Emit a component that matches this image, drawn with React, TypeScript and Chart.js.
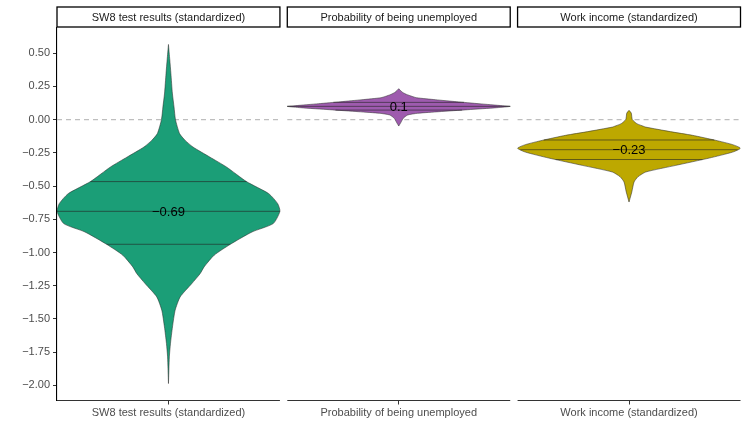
import React, { useEffect, useRef } from 'react';
import { Chart, registerables } from 'chart.js';

Chart.register(...registerables);

const FONT = "'Liberation Sans', Arial, Helvetica, sans-serif";

// Facet / category names
const panels = [
  'SW8 test results (standardized)',
  'Probability of being unemployed',
  'Work income (standardized)',
];
const fillColors = ['#1B9E77', '#9E5BAE', '#BDA800'];

// Violin outlines: y value and relative half-width (1 = widest point)
const sw8Y = [0.566, 0.45, 0.346, 0.2, 0.095, 0.0, -0.105, -0.156, -0.206, -0.281, -0.356, -0.466, -0.557, -0.632, -0.69, -0.782, -0.845, -0.938, -1.02, -1.108, -1.158, -1.233, -1.334, -1.434, -1.56, -1.685, -1.785, -1.986];
const sw8W = [0, 0.012, 0.022, 0.035, 0.05, 0.063, 0.1, 0.15, 0.22, 0.37, 0.52, 0.70, 0.90, 0.98, 1.0, 0.94, 0.75, 0.555, 0.41, 0.32, 0.285, 0.21, 0.105, 0.06, 0.036, 0.018, 0.008, 0];

const unempY = [0.233, 0.22, 0.205, 0.19, 0.175, 0.165, 0.15, 0.135, 0.12, 0.105, 0.1, 0.09, 0.075, 0.06, 0.048, 0.035, 0.01, -0.02, -0.048];
const unempW = [0, 0.015, 0.035, 0.07, 0.12, 0.16, 0.33, 0.52, 0.72, 0.93, 1.0, 0.88, 0.62, 0.36, 0.17, 0.08, 0.04, 0.02, 0];

const incomeY = [0.07, 0.05, 0.02, 0.0, -0.03, -0.05, -0.056, -0.09, -0.118, -0.156, -0.188, -0.215, -0.244, -0.289, -0.344, -0.394, -0.43, -0.469, -0.544, -0.62];
const incomeW = [0, 0.02, 0.025, 0.03, 0.07, 0.13, 0.15, 0.37, 0.57, 0.78, 0.93, 1.0, 0.93, 0.72, 0.42, 0.15, 0.08, 0.045, 0.025, 0];

// Quartiles (75%, 50%, 25%)
const sw8Q = [-0.466, -0.69, -0.938];
const unempQ = [0.13, 0.1, 0.072];
const incomeQ = [-0.153, -0.226, -0.30];

const medianLabels = ['\u22120.69', '0.1', '\u22120.23'];
const medians = [sw8Q[1], unempQ[1], incomeQ[1]];

const yTicks = [0.5, 0.25, 0, -0.25, -0.5, -0.75, -1, -1.25, -1.5, -1.75, -2];

const violinYs = [sw8Y, unempY, incomeY];
const violinWs = [sw8W, unempW, incomeW];
const violinQs = [sw8Q, unempQ, incomeQ];

const PANEL = 2;
const GAP = 0.066;
const center = (i: number) => i * (PANEL + GAP) + PANEL / 2;

const widthAt = (ys: number[], ws: number[], q: number) => {
  for (let k = 0; k < ys.length - 1; k++) {
    const a = ys[k], b = ys[k + 1];
    if ((q <= a && q >= b)) {
      const t = (a - q) / (a - b || 1);
      return ws[k] + t * (ws[k + 1] - ws[k]);
    }
  }
  return 0;
};

const fmt = (v: number) => {
  const s = Math.abs(v).toFixed(2);
  return v < -1e-9 ? '\u2212' + s : s;
};

const allY = [...sw8Y, ...unempY, ...incomeY];
const dMin = Math.min(...allY);
const dMax = Math.max(...allY);
const yMin = dMin - 0.05 * (dMax - dMin);
const yMax = dMax + 0.05 * (dMax - dMin);

export default function App() {
  const ref = useRef<HTMLCanvasElement | null>(null);

  useEffect(() => {
    document.body.style.margin = '0';
    const canvas = ref.current;
    if (!canvas) return;

    const datasets: any[] = [];
    violinYs.forEach((ys, i) => {
      const ws = violinWs[i];
      const c = center(i);
      const pts: { x: number; y: number }[] = [];
      ys.forEach((y, k) => pts.push({ x: c + ws[k] * (PANEL / 2), y }));
      for (let k = ys.length - 1; k >= 0; k--) pts.push({ x: c - ws[k] * (PANEL / 2), y: ys[k] });
      datasets.push({
        type: 'line',
        data: pts,
        backgroundColor: fillColors[i],
        borderColor: 'rgba(45,45,45,0.9)',
        borderWidth: 0.6,
        pointRadius: 0,
        tension: 0.2,
        fill: 'shape',
        order: 2,
      });
    });
    violinQs.forEach((qs, i) => {
      const c = center(i);
      qs.forEach((q) => {
        const w = widthAt(violinYs[i], violinWs[i], q) * (PANEL / 2);
        datasets.push({
          type: 'line',
          data: [{ x: c - w, y: q }, { x: c + w, y: q }],
          borderColor: 'rgba(35,35,35,0.75)',
          borderWidth: 0.8,
          pointRadius: 0,
          fill: false,
          order: 1,
        });
      });
    });

    const facetPlugin = {
      id: 'facets',
      beforeDatasetsDraw(chart: any) {
        const { ctx, scales } = chart;
        const xs = scales.x, ys = scales.y;
        const y0 = ys.getPixelForValue(0);
        ctx.save();
        ctx.strokeStyle = '#BEBEBE';
        ctx.lineWidth = 1.1;
        ctx.setLineDash([5, 4]);
        panels.forEach((_, i) => {
          const l = xs.getPixelForValue(center(i) - PANEL / 2);
          const r = xs.getPixelForValue(center(i) + PANEL / 2);
          ctx.beginPath();
          ctx.moveTo(l, y0);
          ctx.lineTo(r, y0);
          ctx.stroke();
        });
        ctx.restore();
      },
      afterDatasetsDraw(chart: any) {
        const { ctx, scales } = chart;
        ctx.save();
        ctx.fillStyle = '#000';
        ctx.font = `13px ${FONT}`;
        ctx.textAlign = 'center';
        ctx.textBaseline = 'middle';
        medians.forEach((m, i) => {
          ctx.fillText(medianLabels[i], scales.x.getPixelForValue(center(i)), scales.y.getPixelForValue(m) + 1);
        });
        ctx.restore();
      },
      afterDraw(chart: any) {
        const { ctx, scales, chartArea } = chart;
        const xs = scales.x;
        ctx.save();
        panels.forEach((name, i) => {
          const l = xs.getPixelForValue(center(i) - PANEL / 2);
          const r = xs.getPixelForValue(center(i) + PANEL / 2);
          // strip
          const top = chartArea.top - 20.5;
          ctx.fillStyle = '#fff';
          ctx.fillRect(l, top, r - l, 20);
          ctx.strokeStyle = '#000';
          ctx.lineWidth = 1.3;
          ctx.strokeRect(l, top, r - l, 20);
          ctx.fillStyle = '#1a1a1a';
          ctx.font = `11px ${FONT}`;
          ctx.textAlign = 'center';
          ctx.textBaseline = 'middle';
          ctx.fillText(name, (l + r) / 2, top + 10.5);
          // x axis line
          ctx.strokeStyle = '#333';
          ctx.lineWidth = 1.1;
          ctx.beginPath();
          ctx.moveTo(l, chartArea.bottom);
          ctx.lineTo(r, chartArea.bottom);
          ctx.stroke();
        });
        ctx.restore();
      },
    };

    const chart = new Chart(canvas, {
      type: 'line',
      data: { datasets },
      options: {
        animation: false,
        responsive: false,
        devicePixelRatio: 1,
        layout: { padding: { top: 27.5, right: 6.5, bottom: 19.5, left: 0 } },
        plugins: { legend: { display: false }, tooltip: { enabled: false } },
        scales: {
          x: {
            type: 'linear',
            min: 0,
            max: 3 * PANEL + 2 * GAP,
            afterBuildTicks: (s: any) => {
              s.ticks = panels.map((_, i) => ({ value: center(i) }));
            },
            afterFit: (s: any) => {
              s.height = 20;
            },
            ticks: {
              autoSkip: false,
              maxRotation: 0,
              minRotation: 0,
              padding: 2,
              color: '#4D4D4D',
              font: { size: 11, family: FONT },
              callback: (_v: any, idx: number) => panels[idx],
            },
            grid: { drawOnChartArea: false, tickLength: 4, color: '#333', tickColor: '#333', tickWidth: 1 },
            border: { display: false },
          },
          y: {
            type: 'linear',
            min: yMin,
            max: yMax,
            afterBuildTicks: (s: any) => {
              s.ticks = yTicks.map((v) => ({ value: v }));
            },
            afterFit: (s: any) => {
              s.width = 57;
            },
            ticks: {
              padding: 3,
              color: '#4D4D4D',
              font: { size: 11, family: FONT },
              callback: (v: any) => fmt(Number(v)),
            },
            grid: { drawOnChartArea: false, tickLength: 4, color: '#333', tickColor: '#333', tickWidth: 1 },
            border: { display: true, color: '#000', width: 1.1 },
          },
        },
      },
      plugins: [facetPlugin],
    } as any);

    return () => chart.destroy();
  }, []);

  return (
    <div style={{ width: 747, height: 440, background: '#fff' }}>
      <canvas ref={ref} width={747} height={440} style={{ display: 'block' }} />
    </div>
  );
}
